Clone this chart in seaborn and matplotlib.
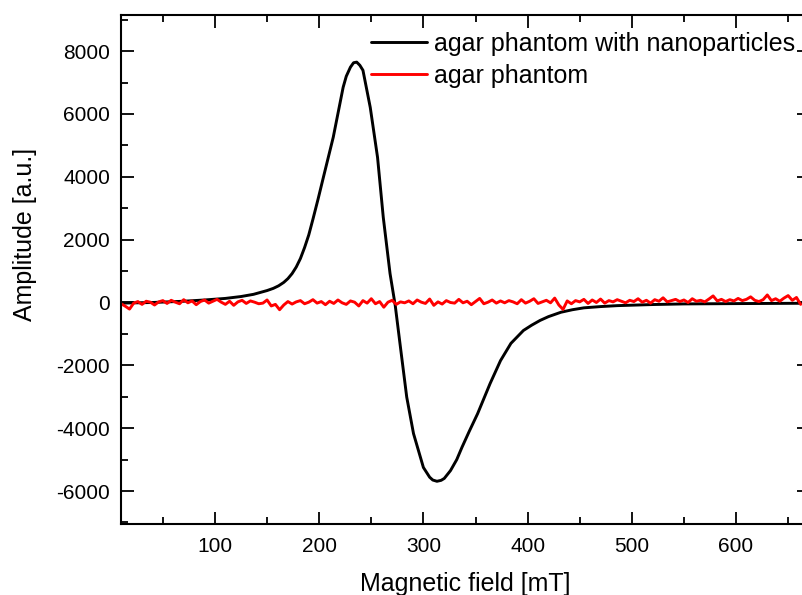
"""
EPR spectrum: agar phantom with and without nanoparticles.
"""

import matplotlib
matplotlib.use('Agg')
import matplotlib.pyplot as plt
from matplotlib.ticker import MultipleLocator
import numpy as np
import pandas as pd
import seaborn as sns

# --- data ---
field_np = [10, 40, 70, 90, 110, 125, 137, 150, 156, 161, 166, 170, 174, 178, 182,
            186, 190, 194, 199, 204, 213.5, 223, 226, 230, 233, 236, 239, 242, 249,
            256, 261.5, 268, 273, 278, 284, 290.5, 300, 306, 309, 313, 317, 320, 326,
            332, 337, 344, 352, 364, 374, 384, 396, 404, 412, 420, 432, 443, 454,
            470, 486, 520, 550, 600, 662]
amp_np = [-20, 0, 40, 80, 130, 190, 260, 380, 450, 530, 640, 760, 920, 1130, 1400,
          1750, 2150, 2650, 3300, 3980, 5260, 6850, 7200, 7490, 7630, 7650, 7550, 7390, 6210,
          4620, 2710, 920, -100, -1430, -3010, -4170, -5250, -5560, -5650, -5690, -5660, -5600, -5350,
          -5000, -4610, -4100, -3540, -2580, -1850, -1300, -890, -720, -570, -450, -310, -230, -170,
          -130, -100, -65, -45, -35, -25]

# agar phantom alone: noise around zero, 4 mT steps from 10 to 662 mT
field_agar = np.linspace(10, 662, 164)
amp_agar = [
    -40, -120, -210, -20, 30, -60, 40, 10, -80, 20, 60, -30, 70, 10, -40, 90, -10, 50, -70, 30, 80, -20, 40,
    100, 10, -60, 40, -90, 20, 70, -30, 50, 10, -40, -20, 80, -110, -60, -230, -80, 30, -50, 20, 60, -40, 10, 90, -20,
    30, -70, 40, -30, 80, -10, -60, 50, 10, -110, 60, -20, 120, -40, 30, -150, 10, 70, -60, 20, -10, 50, -40, 80, 10,
    -30, 110, -90, 20, -50, 60, 0, -20, 100, -10, 40, -70, 30, 130, -40, 10, 80, -20, 50, -10, 60, 20, -40, 90, -20,
    40, 120, -30, 20, 70, -10, 140, -80, -220, 50, -40, 60, 20, 100, -30, 80, 0, 110, -20, 60, 20, 90, 40, -10, 70,
    30, 120, 10, 70, -20, 90, 40, 150, 20, 60, 100, 30, 80, 0, 120, 40, 70, 20, 110, 210, 50, 100, 30, 90, 50,
    130, 60, 100, 180, 70, 30, 90, 240, 60, 120, 40, 140, 220, 70, 160, -60,
]

LABEL_NP = 'agar phantom with nanoparticles'
LABEL_AGAR = 'agar phantom'

# --- style ---
sns.set_style('ticks')
plt.rcParams['font.family'] = ['Liberation Sans', 'DejaVu Sans']
plt.rcParams['axes.unicode_minus'] = False
plt.rcParams['text.color'] = 'black'
plt.rcParams['axes.labelcolor'] = 'black'
plt.rcParams['xtick.color'] = 'black'
plt.rcParams['ytick.color'] = 'black'

df_np = pd.DataFrame({'field': field_np, 'amp': amp_np})
df_agar = pd.DataFrame({'field': field_agar, 'amp': amp_agar})

fig = plt.figure(figsize=(8.02, 5.95), dpi=100)
ax = fig.add_axes([0.1511, 0.1193, 0.8576, 0.8555])

sns.lineplot(data=df_np, x='field', y='amp', color='black', linewidth=2.1,
             label=LABEL_NP, ax=ax)
sns.lineplot(data=df_agar, x='field', y='amp', color='#ff0000', linewidth=2.1,
             label=LABEL_AGAR, ax=ax)

ax.set_xlim(10, 670)
ax.set_ylim(-7050, 9150)
ax.xaxis.set_major_locator(MultipleLocator(100))
ax.xaxis.set_minor_locator(MultipleLocator(50))
ax.yaxis.set_major_locator(MultipleLocator(2000))
ax.yaxis.set_minor_locator(MultipleLocator(1000))

ax.tick_params(which='both', direction='in', top=True, right=True, width=1.3,
               labelsize=15, color='black', labelcolor='black')
ax.tick_params(which='major', length=9)
ax.tick_params(which='minor', length=5)
ax.tick_params(axis='x', pad=9)
ax.tick_params(axis='y', pad=8)
for side in ax.spines.values():
    side.set_linewidth(1.5)
    side.set_color('black')

ax.set_xlabel('Magnetic field [mT]', fontsize=18, labelpad=12)
ax.set_ylabel('Amplitude [a.u.]', fontsize=18)
ax.yaxis.set_label_coords(-0.123, 0.568)

ax.legend(loc='upper left', bbox_to_anchor=(0.462, 0.947),
          bbox_transform=fig.transFigure, frameon=False, fontsize=18,
          handlelength=2.25, handletextpad=0.3, labelspacing=0.32,
          borderpad=0, borderaxespad=0)

fig.savefig('out.png', dpi=100)
